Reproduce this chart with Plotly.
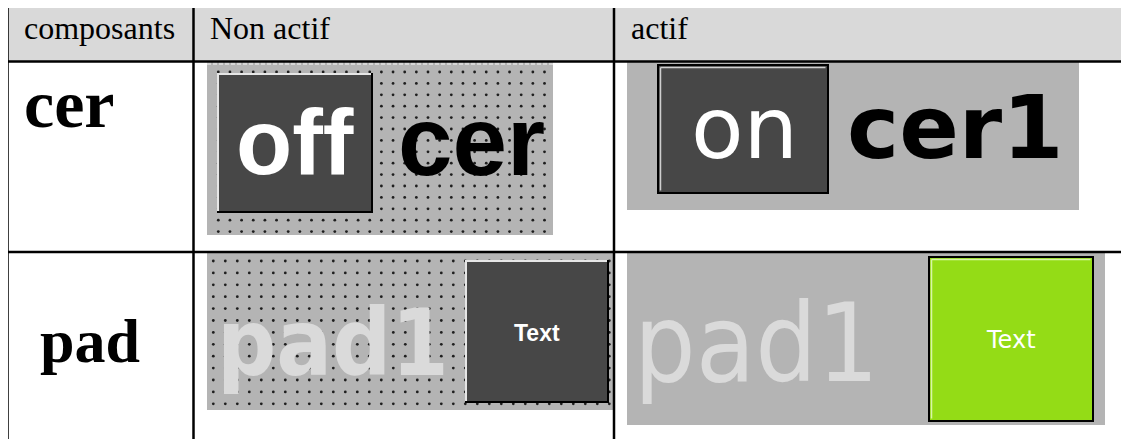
import numpy as np
import plotly.graph_objects as go

# ---- content ----
headers = ["composants", "Non actif", "actif"]
components = ["cer", "pad"]
cer_inactive = ["off", "cer"]
cer_active = ["on", "cer1"]
pad_label = ["pad1", "pad1"]
button_text = ["Text", "Text"]

W, H = 1129, 439
OFF = 8  # page body margin compensation
GRAY = "#b4b4b4"
DARK = "#474747"
HEAD = "#d9d9d9"
LIGHT = "#dadada"
GREEN = "#94dc16"

fig = go.Figure()
shapes = []
ann = []


def rect(x0, y0, x1, y1, fill, line=None, lw=0, layer="below"):
    shapes.append(dict(type="rect", x0=x0, y0=y0, x1=x1, y1=y1, xref="x", yref="y",
                       fillcolor=fill, line=dict(color=line or fill, width=lw), layer=layer))


def line(x0, y0, x1, y1, color="black", w=2.5, layer="above", dash=None):
    d = dict(color=color, width=w)
    if dash:
        d["dash"] = dash
    shapes.append(dict(type="line", x0=x0, y0=y0, x1=x1, y1=y1, xref="x", yref="y",
                       line=d, layer=layer))


def text(x, y, s, size, color, family, xanchor="center"):
    ann.append(dict(x=x, y=y, xref="x", yref="y", text=s, showarrow=False,
                    xanchor=xanchor, yanchor="middle",
                    font=dict(size=size, color=color, family=family)))


def bevel(x0, y0, x1, y1, fill, hi="#e6e6e6", outline=False):
    rect(x0, y0, x1, y1, fill, layer="above")
    if outline:
        rect(x0, y0, x1, y1, "rgba(0,0,0,0)", line="black", lw=2, layer="above")
        line(x0 + 2.5, y0 + 2.5, x1 - 2.5, y0 + 2.5, hi, 1.5)
        line(x0 + 2.5, y0 + 2.5, x0 + 2.5, y1 - 2.5, hi, 1.5)
    else:
        line(x0, y0 + 1, x1, y0 + 1, hi, 2)
        line(x0 + 1, y0, x0 + 1, y1, hi, 2)
        line(x1 - 1, y0, x1 - 1, y1, "black", 2)
        line(x0, y1 - 1, x1, y1 - 1, "black", 2)


# ---- header background ----
rect(7.5, 6, W + 20, 61.5, HEAD)

# ---- cell backgrounds ----
rect(207, 62, 553, 235, GRAY)      # cer non actif
rect(627, 62, 1079, 210, GRAY)     # cer actif
rect(207, 252, 613, 410, GRAY)     # pad non actif
rect(627, 252, 1105, 425, GRAY)    # pad actif
line(207, 63.5, 553, 63.5, "#d6d6d6", 3, layer="below", dash="4px,2px")

# ---- dotted grids (editor grid texture) ----
dx, dy = [], []
for (gx0, gx1, gy0, gy1, step_x, step_y) in [(218.3, 548, 72, 232, 11.65, 11.4),
                                              (213.3, 612, 261, 408, 12.0, 11.9)]:
    xs = np.arange(gx0, gx1, step_x)
    ys = np.arange(gy0, gy1, step_y)
    gx, gy = np.meshgrid(xs, ys)
    dx.extend(gx.ravel().tolist())
    dy.extend(gy.ravel().tolist())
fig.add_trace(go.Scatter(x=dx, y=dy, mode="markers", hoverinfo="skip",
                         marker=dict(size=2.8, color="#1e1e1e", line=dict(width=0)),
                         showlegend=False))

# ---- buttons ----
bevel(217, 73, 373, 213, DARK)
bevel(658, 65, 828, 193, DARK, hi="#cfcfcf", outline=True)
bevel(465, 260, 609, 403, DARK)
bevel(929, 257, 1093, 421, GREEN, hi="#d8f5a8", outline=True)

# ---- component texts ----
sans = "Liberation Sans, Arial, sans-serif"
djv = "DejaVu Sans, sans-serif"
djc = "DejaVu Sans Condensed, DejaVu Sans, sans-serif"
text(295, 142, "<b>%s</b>" % cer_inactive[0], 92, "white", sans)
text(471, 141, "<b>%s</b>" % cer_inactive[1], 98, "black", sans)
text(744, 128, cer_active[0], 86, "white", djv)
text(955, 127, "<b>%s</b>" % cer_active[1], 88, "black", djv)
text(333, 343, "<b>%s</b>" % pad_label[0], 92, LIGHT, djc)
text(756, 343, pad_label[1], 108, LIGHT, djc)
text(537, 333, "<b>%s</b>" % button_text[0], 23, "white", sans)
text(1011, 340, button_text[1], 24, "white", djv)

# ---- table text ----
serif = "Liberation Serif, Times New Roman, serif"
text(22, 28, headers[0], 32, "black", serif, xanchor="left")
text(208, 28, headers[1], 32, "black", serif, xanchor="left")
text(629, 28, headers[2], 32, "black", serif, xanchor="left")
text(22, 104, "<b>%s</b>" % components[0], 68, "black", serif, xanchor="left")
text(38, 341, "<b>%s</b>" % components[1], 62, "black", serif, xanchor="left")

# ---- table grid lines ----
line(7.5, 6, W + 20, 6)
line(7.5, 61.5, W + 20, 61.5)
line(7.5, 252, W + 20, 252)
for xv in (7.5, 193.5, 614):
    line(xv, 5, xv, H + 20)

fig.update_layout(
    width=W, height=H, margin=dict(l=0, r=0, t=0, b=0),
    paper_bgcolor="white", plot_bgcolor="white",
    xaxis=dict(range=[OFF, W + OFF], visible=False, fixedrange=True),
    yaxis=dict(range=[H + OFF, OFF], visible=False, fixedrange=True),
    shapes=shapes, annotations=ann, showlegend=False,
)
fig.write_html("out.html", config={"displayModeBar": False})
